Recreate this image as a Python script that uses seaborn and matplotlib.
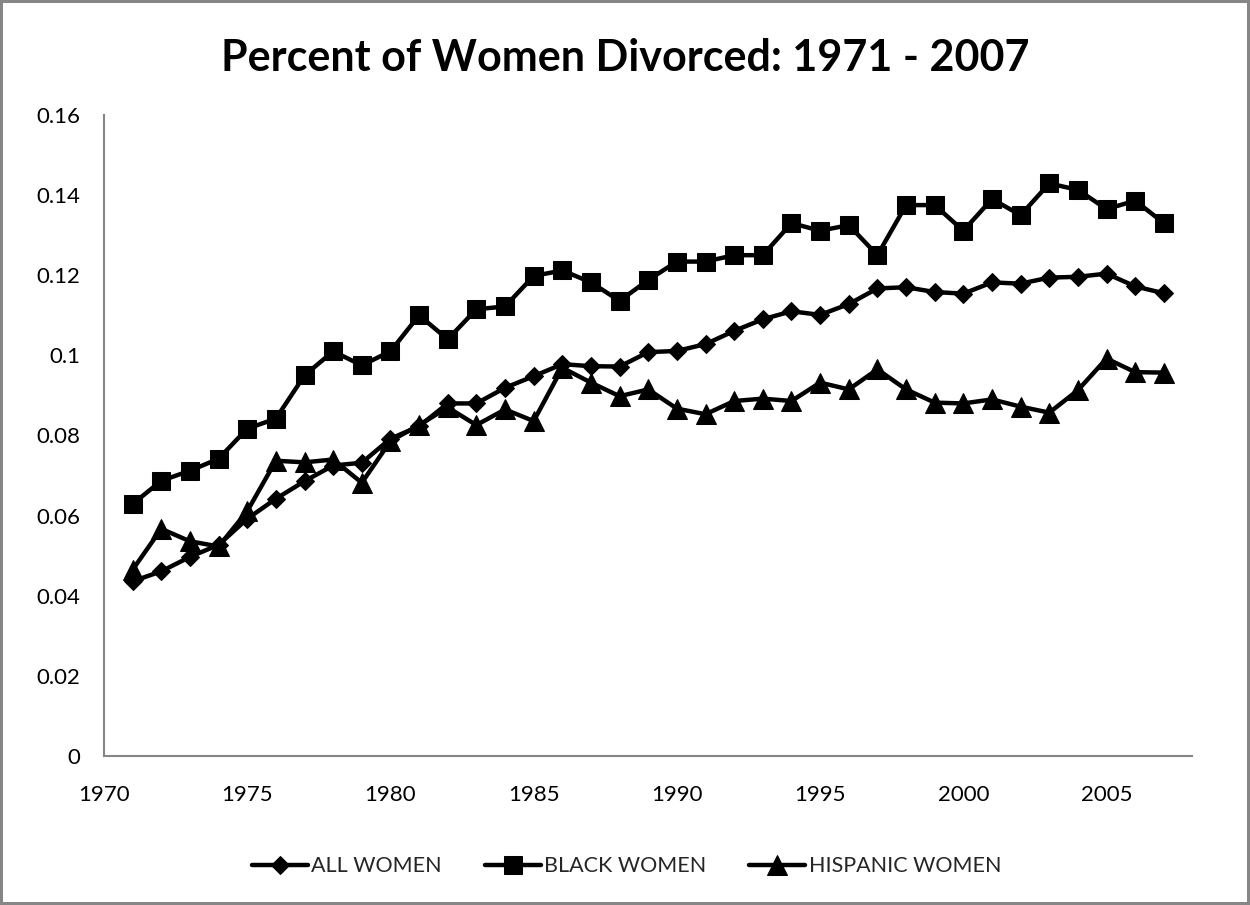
import numpy as np
import pandas as pd
import matplotlib
matplotlib.use("Agg")
import matplotlib.pyplot as plt
from matplotlib.ticker import FuncFormatter
import seaborn as sns

sns.set_theme(style="white")
plt.rcParams['font.family'] = ['Lato', 'DejaVu Sans']

# ---- data ----
years = list(range(1971, 2008))

all_women = [0.0436, 0.0461, 0.0497, 0.0527, 0.0592, 0.0642, 0.0686, 0.0725, 0.0732, 0.0792,
             0.0823, 0.0880, 0.0880, 0.0919, 0.0948, 0.0978, 0.0973, 0.0972, 0.1008, 0.1011,
             0.1028, 0.1061, 0.1090, 0.1110, 0.1101, 0.1128, 0.1167, 0.1170, 0.1158, 0.1154,
             0.1182, 0.1179, 0.1194, 0.1196, 0.1204, 0.1172, 0.1155]

black_women = [0.0629, 0.0687, 0.0712, 0.0742, 0.0817, 0.0842, 0.0950, 0.1010, 0.0975, 0.1010,
               0.1100, 0.1040, 0.1115, 0.1122, 0.1198, 0.1212, 0.1182, 0.1136, 0.1188, 0.1234,
               0.1234, 0.1250, 0.1250, 0.1330, 0.1311, 0.1325, 0.1250, 0.1375, 0.1375, 0.1311,
               0.1390, 0.1350, 0.1429, 0.1413, 0.1365, 0.1386, 0.1330]

hispanic_women = [0.0465, 0.0567, 0.0536, 0.0523, 0.0611, 0.0737, 0.0733, 0.0740, 0.0682, 0.0786,
                  0.0826, 0.0870, 0.0826, 0.0865, 0.0836, 0.0969, 0.0932, 0.0898, 0.0915, 0.0867,
                  0.0853, 0.0886, 0.0892, 0.0886, 0.0932, 0.0915, 0.0965, 0.0915, 0.0882, 0.0880,
                  0.0890, 0.0872, 0.0857, 0.0913, 0.0992, 0.0958, 0.0957]

series_names = ["ALL WOMEN", "BLACK WOMEN", "HISPANIC WOMEN"]
y_ticks = [0, 0.02, 0.04, 0.06, 0.08, 0.1, 0.12, 0.14, 0.16]
x_ticks = [1970, 1975, 1980, 1985, 1990, 1995, 2000, 2005]

# styling per series
markers = {"ALL WOMEN": "D", "BLACK WOMEN": "s", "HISPANIC WOMEN": "^"}
msizes = {"ALL WOMEN": 9, "BLACK WOMEN": 13, "HISPANIC WOMEN": 14}

df = pd.DataFrame({
    "year": years * 3,
    "value": all_women + black_women + hispanic_women,
    "series": np.repeat(series_names, len(years)),
})

fig = plt.figure(figsize=(12.5, 9.05), dpi=100, linewidth=4, edgecolor="#868686")
ax = fig.add_axes([0.0832, 0.1646, 0.8708, 0.7084])

for name in series_names:
    sub = df[df["series"] == name]
    sns.lineplot(data=sub, x="year", y="value", ax=ax, color="black", lw=3.2,
                 marker=markers[name], markersize=msizes[name], markeredgecolor="black",
                 label=name)

ax.set_xlim(1970, 2008)
ax.set_ylim(0, 0.16)
ax.set_xticks(x_ticks)
ax.set_yticks(y_ticks)
ax.yaxis.set_major_formatter(FuncFormatter(lambda v, p: f"{v:g}"))
ax.set_xlabel("")
ax.set_ylabel("")

for side in ["top", "right"]:
    ax.spines[side].set_visible(False)
for side in ["left", "bottom"]:
    ax.spines[side].set_color("#868686")
    ax.spines[side].set_linewidth(1.5)
ax.tick_params(axis="both", direction="out", length=7, width=1.2, color="#868686",
               labelsize=16, labelcolor="black")
ax.tick_params(axis="x", pad=14)
ax.tick_params(axis="y", pad=10)

fig.suptitle("Percent of Women Divorced: 1971 - 2007", fontsize=31, fontweight="bold",
             color="black", y=0.958)

ax.legend(loc="center", bbox_to_anchor=(0.48, -0.172), ncol=3, frameon=False,
          fontsize=15.5, handlelength=2.6, columnspacing=2.0, handletextpad=0.15)

fig.savefig("out.png", dpi=100)
